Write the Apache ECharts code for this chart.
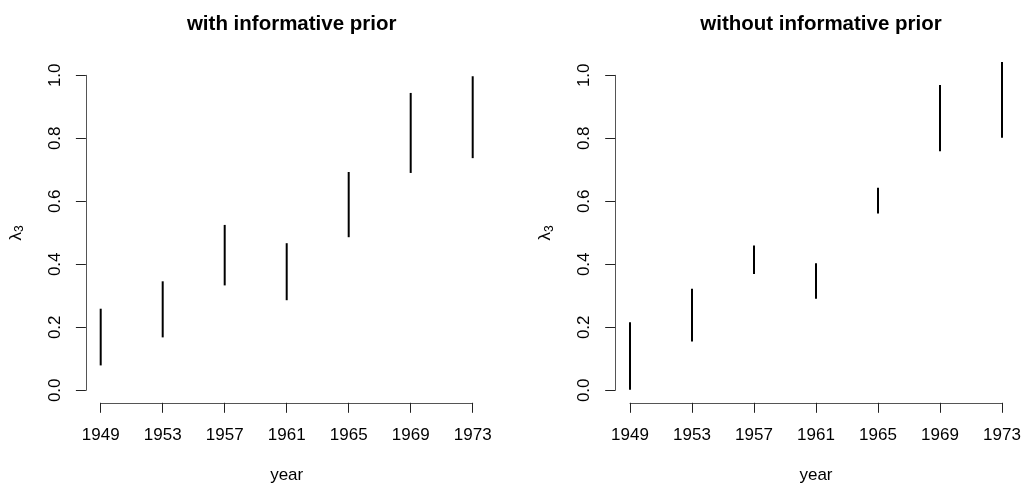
<!DOCTYPE html>
<html>
<head>
<meta charset="utf-8">
<script src="https://cdn.jsdelivr.net/npm/echarts@6/dist/echarts.min.js"></script>
<style>
html,body{margin:0;padding:0;background:#fff;}
#chart{width:1021px;height:486px;}
</style>
</head>
<body>
<div id="chart"></div>
<script>
// ---- data ----
const years = [1949, 1953, 1957, 1961, 1965, 1969, 1973];
const withLo = [0.079, 0.168, 0.333, 0.286, 0.486, 0.690, 0.737];
const withHi = [0.259, 0.346, 0.525, 0.467, 0.693, 0.944, 0.997];
const withoutLo = [0.002, 0.155, 0.369, 0.291, 0.561, 0.759, 0.802];
const withoutHi = [0.216, 0.322, 0.460, 0.403, 0.643, 0.969, 1.042];
const titles = ['with informative prior', 'without informative prior'];
const xName = 'year';
const yNameBase = 'λ';
const yNameSub = '3';
const yTicks = [0, 0.2, 0.4, 0.6, 0.8, 1.0];

const FONT = '"Liberation Sans", Arial, Helvetica, sans-serif';
const chart = echarts.init(document.getElementById('chart'), null, {renderer: 'canvas'});

const panels = [
  {left: 100.7, lo: withLo, hi: withHi},
  {left: 630, lo: withoutLo, hi: withoutHi}
];

function xAxisFor(i) {
  return {
    type: 'value', gridIndex: i, min: years[0], max: years[years.length - 1], interval: 4,
    offset: 12.5,
    axisLine: {show: true, onZero: false, lineStyle: {color: '#555', width: 1}},
    axisTick: {show: true, length: 10, lineStyle: {color: '#222'}},
    axisLabel: {show: true, margin: 24.5, color: '#000', fontSize: 17, fontFamily: FONT,
      formatter: v => String(v)},
    splitLine: {show: false},
    name: xName, nameLocation: 'middle', nameGap: 64.5,
    nameTextStyle: {color: '#000', fontSize: 17, fontFamily: FONT}
  };
}
function yAxisFor(i) {
  return {
    type: 'value', gridIndex: i, min: yTicks[0], max: yTicks[yTicks.length - 1], interval: 0.2,
    offset: 14.8,
    axisLine: {show: true, onZero: false, lineStyle: {color: '#555', width: 1}},
    axisTick: {show: true, length: 10, lineStyle: {color: '#222'}},
    axisLabel: {show: true, margin: 22, rotate: 90, color: '#000', fontSize: 17, fontFamily: FONT,
      formatter: v => v.toFixed(1)},
    splitLine: {show: false},
    name: '{a|' + yNameBase + '}{b|' + yNameSub + '}', nameLocation: 'middle', nameGap: 60, nameRotate: 90,
    nameTextStyle: {
      color: '#000', fontFamily: FONT,
      rich: {
        a: {fontSize: 17, fontFamily: FONT, color: '#000', verticalAlign: 'middle'},
        b: {fontSize: 12, fontFamily: FONT, color: '#000', verticalAlign: 'middle', padding: [7, 0, 0, 0]}
      }
    }
  };
}

function renderSeg(params, api) {
  const x = api.value(0), lo = api.value(1), hi = api.value(2);
  const p1 = api.coord([x, lo]);
  const p2 = api.coord([x, hi]);
  return {type: 'line', shape: {x1: p1[0], y1: p1[1], x2: p2[0], y2: p2[1]},
    style: {stroke: '#000', lineWidth: 2}};
}

const option = {
  backgroundColor: '#fff',
  animation: false,
  title: panels.map((p, i) => ({
    text: titles[i],
    left: p.left + 186, top: 9, textAlign: 'center',
    textStyle: {color: '#000', fontSize: 20.5, fontWeight: 'bold', fontFamily: FONT}
  })),
  grid: panels.map(p => ({left: p.left, width: 372, top: 75.3, height: 315,
    containLabel: false, outerBoundsMode: 'none'})),
  xAxis: panels.map((p, i) => xAxisFor(i)),
  yAxis: panels.map((p, i) => yAxisFor(i)),
  series: panels.map((p, i) => ({
    type: 'custom', xAxisIndex: i, yAxisIndex: i, clip: false,
    renderItem: renderSeg,
    encode: {x: 0, y: [1, 2]},
    data: years.map((y, k) => [y, p.lo[k], p.hi[k]])
  }))
};
chart.setOption(option);
</script>
</body>
</html>
